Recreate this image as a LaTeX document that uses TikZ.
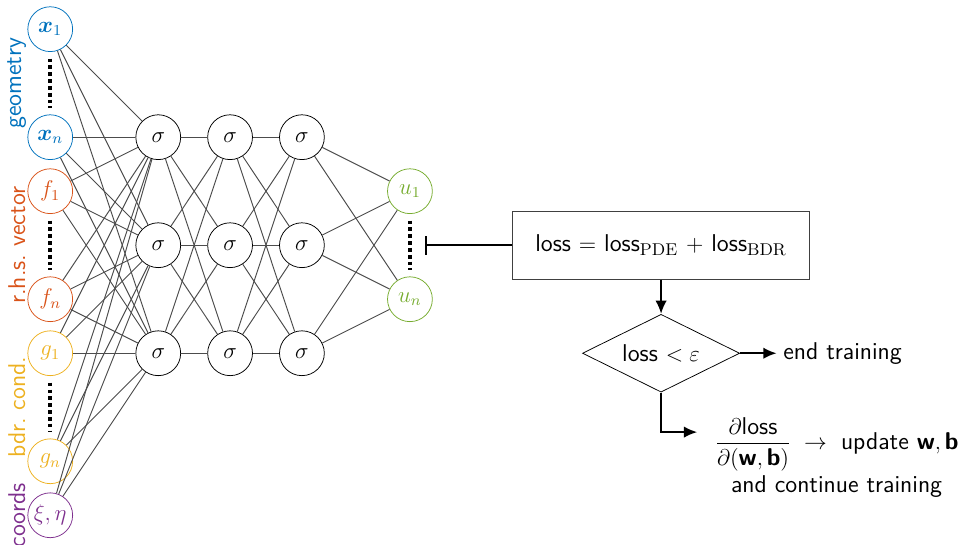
\documentclass[tikz,border=0pt]{standalone}
\definecolor{geoblue}{RGB}{0, 114, 189}
\definecolor{rhsorange}{RGB}{217, 83, 25}
\definecolor{bdryellow}{RGB}{237, 177, 32}
\definecolor{coordviolet}{RGB}{126, 47, 142}
\definecolor{outgreen}{RGB}{119, 172, 48}
\usepackage{tikz}
\usetikzlibrary{shapes, arrows.meta, positioning, calc}
\usepackage{amsmath, amssymb, bm}
\newcommand{\netfont}{\fontsize{12.8}{15}\selectfont}

\tikzset{
  neuron/.style={circle, draw, minimum size=0.83cm, inner sep=0pt, font=\large},
  wire/.style={black!70, line width=0.5pt},
  vdots/.style={line width=2pt, dash pattern=on 2pt off 1.6pt, shorten >=3.5pt, shorten <=3.5pt},
  flow/.style={-{Latex[length=7pt, width=6pt]}, line width=1.1pt},
  sidelabel/.style={rotate=90, font=\sffamily\netfont}
}

\begin{document}
\begin{tikzpicture}
  \useasboundingbox (0, 0) rectangle (17.83, -10.09);

  % Inputs
  \node[neuron, draw=geoblue, text=geoblue] (x1) at (0.93, -0.54) {$\bm{x}_1$};
  \node[neuron, draw=geoblue, text=geoblue] (xn) at (0.93, -2.54) {$\bm{x}_n$};
  \node[neuron, draw=rhsorange, text=rhsorange] (f1) at (0.93, -3.54) {$f_1$};
  \node[neuron, draw=rhsorange, text=rhsorange] (fn) at (0.93, -5.54) {$f_n$};
  \node[neuron, draw=bdryellow, text=bdryellow] (g1) at (0.93, -6.54) {$g_1$};
  \node[neuron, draw=bdryellow, text=bdryellow] (gn) at (0.93, -8.54) {$g_n$};
  \node[neuron, draw=coordviolet, text=coordviolet] (xe) at (0.93, -9.54) {$\xi,\eta$};

  \draw[vdots] (x1) -- (xn);
  \draw[vdots] (f1) -- (fn);
  \draw[vdots] (g1) -- (gn);

  % Input groups
  \node[sidelabel, text=geoblue] (geo) at (0.31, -1.54) {geometry};
  \node[sidelabel, text=rhsorange] (rhs) at (0.31, -4.54) {r.h.s.\ vector};
  \node[sidelabel, text=bdryellow] (bdr) at (0.31, -7.54) {bdr.\ cond.};
  \node[sidelabel, text=coordviolet] (crd) at (0.31, -9.54) {coords};

  % Hidden layers
  \foreach \l/\x in {1/2.93, 2/4.26, 3/5.59} {
    \foreach \r/\y in {1/-2.54, 2/-4.54, 3/-6.54} {
      \node[neuron] (h\l\r) at (\x, \y) {$\sigma$};
    }
  }

  % Outputs
  \node[neuron, draw=outgreen, text=outgreen] (u1) at (7.59, -3.54) {$u_1$};
  \node[neuron, draw=outgreen, text=outgreen] (un) at (7.59, -5.54) {$u_n$};
  \draw[vdots] (u1) -- (un);

  % Connections
  \foreach \i in {x1, xn, f1, fn, g1, gn, xe} {
    \foreach \r in {1, 2, 3} {
      \draw[wire] (\i) -- (h1\r);
    }
  }
  \foreach \a/\b in {1/2, 2/3} {
    \foreach \r in {1, 2, 3} {
      \foreach \s in {1, 2, 3} {
        \draw[wire] (h\a\r) -- (h\b\s);
      }
    }
  }
  \foreach \r in {1, 2, 3} {
    \draw[wire] (h3\r) -- (u1);
    \draw[wire] (h3\r) -- (un);
  }

  % Training loop
  \node[draw=black!75, minimum width=5.5cm, minimum height=1.26cm, font=\sffamily\netfont] (loss) at (12.24, -4.54)
    {loss $=$ loss$_{\mathrm{PDE}}$ $+$ loss$_{\mathrm{BDR}}$};
  \coordinate (bar) at (7.87, -4.54);
  \draw[-{Bar[width=10pt]}, line width=1.1pt] (loss) -- (bar);

  \node[diamond, aspect=2, draw, minimum width=2.91cm, minimum height=1.44cm, inner sep=0pt, font=\sffamily\netfont] (check) at (12.24, -6.54)
    {loss $<\varepsilon$};
  \draw[flow] (loss) -- (check);

  \node[anchor=west, font=\sffamily\netfont] (stop) at (14.38, -6.54) {end training};
  \draw[flow] (check) -- (stop);

  \node[anchor=west, font=\sffamily\netfont, inner xsep=9pt, inner ysep=1pt] (upd) at (12.91, -8.22)
    {$\dfrac{\partial\textsf{loss}}{\partial(\textsf{\textbf{w}},\textsf{\textbf{b}})}\;\to\;$ update $\textsf{\textbf{w}},\textsf{\textbf{b}}$};
  \node[below=-2pt of upd, font=\sffamily\netfont] (cont) {and continue training};
  \coordinate (turn) at (12.91, -8.0);
  \draw[flow] (check.south) |- (turn);
\end{tikzpicture}
\end{document}
